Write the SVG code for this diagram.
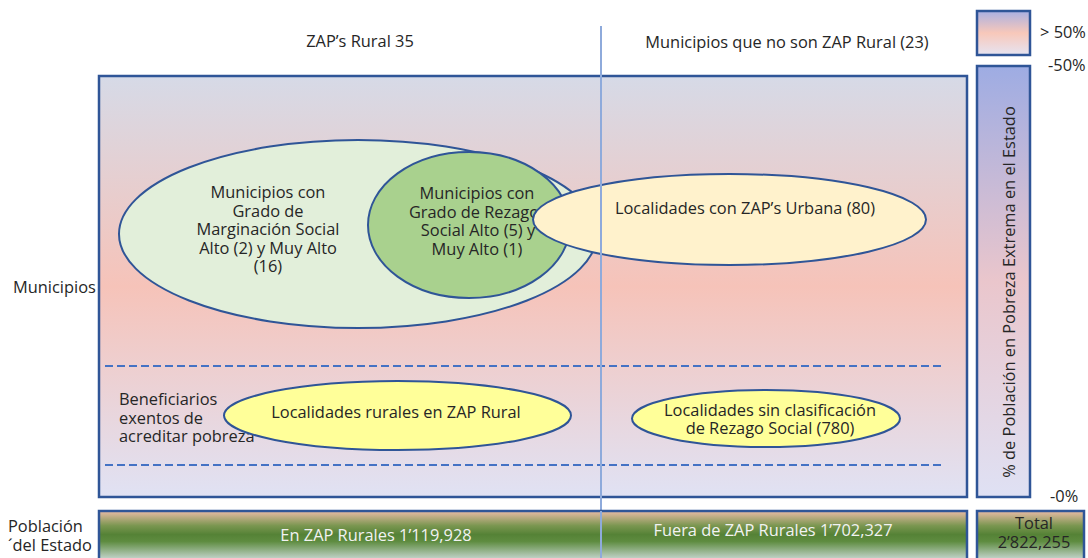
<svg xmlns="http://www.w3.org/2000/svg" width="1088" height="558" viewBox="0 0 1088 558">
<defs>
<linearGradient id="gMain" x1="0" y1="0" x2="0" y2="1">
<stop offset="0" stop-color="#d6dae7"/>
<stop offset="0.5" stop-color="#f6c3b9"/>
<stop offset="1" stop-color="#e0e2f4"/>
</linearGradient>
<linearGradient id="gLegend" x1="0" y1="0" x2="0" y2="1">
<stop offset="0" stop-color="#a9b0e2"/>
<stop offset="0.5" stop-color="#f8c8ba"/>
<stop offset="1" stop-color="#e6e4f2"/>
</linearGradient>
<linearGradient id="gBar" x1="0" y1="0" x2="0" y2="1">
<stop offset="0" stop-color="#9eace3"/>
<stop offset="0.5" stop-color="#eac6cc"/>
<stop offset="1" stop-color="#dfe1f4"/>
</linearGradient>
<linearGradient id="gPop" x1="0" y1="511" x2="0" y2="560" gradientUnits="userSpaceOnUse">
<stop offset="0" stop-color="#e9bba6"/>
<stop offset="0.3" stop-color="#7a9650"/>
<stop offset="0.48" stop-color="#558236"/>
<stop offset="0.62" stop-color="#5e8c40"/>
<stop offset="1" stop-color="#c9d8d4"/>
</linearGradient>
</defs>
<style>
text{font-family:"Open Sans","Liberation Sans",sans-serif;font-size:16.4px;fill:#262626}
.c{text-anchor:middle}
.box{stroke:#2f5597;stroke-width:2.5}
.ell{stroke:#2f5597;stroke-width:2}
.dash{stroke:#4472c4;stroke-width:2;stroke-dasharray:8 4;fill:none}
.w{fill:#f2f2f2}
</style>
<rect width="1088" height="558" fill="#ffffff"/>

<g id="panel">
<rect x="99" y="76" width="868" height="421" fill="url(#gMain)" class="box"/>
</g>

<g id="legend">
<rect x="977" y="11" width="53" height="44" fill="url(#gLegend)" class="box"/>
<text x="1040" y="38">&gt; 50%</text>
<text x="1048" y="71">-50%</text>
<rect x="977" y="66" width="53" height="431" fill="url(#gBar)" class="box"/>
<text class="c" transform="translate(1015 292) rotate(-90)">% de Población en Pobreza Extrema en el Estado</text>
<text x="1050" y="502">-0%</text>
</g>

<g id="headers">
<text class="c" x="360" y="47">ZAP’s Rural 35</text>
<text class="c" x="787" y="48">Municipios que no son ZAP Rural (23)</text>
<text x="13" y="293">Municipios</text>
</g>

<g id="marginacion">
<ellipse cx="358" cy="234" rx="239" ry="94" fill="#e2efda" class="ell"/>
<text class="c" x="268" y="198">Municipios con</text>
<text class="c" x="268" y="217">Grado de</text>
<text class="c" x="268" y="235">Marginación Social</text>
<text class="c" x="268" y="254">Alto (2) y Muy Alto</text>
<text class="c" x="268" y="272">(16)</text>
</g>

<g id="rezago">
<ellipse cx="469" cy="225" rx="101" ry="73" fill="#a9d18e" class="ell"/>
<text class="c" x="477" y="199">Municipios con</text>
<text class="c" x="474" y="218">Grado de Rezago</text>
<text class="c" x="478" y="236">Social Alto (5) y</text>
<text class="c" x="477" y="255">Muy Alto (1)</text>
</g>

<g id="urbana">
<ellipse cx="729.5" cy="219.5" rx="196.5" ry="45.5" fill="#fff2cc" class="ell"/>
<text class="c" x="745" y="214">Localidades con ZAP’s Urbana (80)</text>
</g>

<g id="connectors">
<line x1="105" y1="366" x2="945" y2="366" class="dash"/>
<line x1="105" y1="465" x2="945" y2="465" class="dash"/>
<line x1="601" y1="26" x2="601" y2="558" stroke="#8eaadb" stroke-width="2"/>
</g>

<g id="beneficiarios">
<text x="119" y="405">Beneficiarios</text>
<text x="119" y="424">exentos de</text>
<text x="119" y="442">acreditar pobreza</text>
</g>

<g id="rurales">
<ellipse cx="397.5" cy="415.5" rx="173.5" ry="34.5" fill="#ffff99" class="ell"/>
<text class="c" x="396" y="418">Localidades rurales en ZAP Rural</text>
</g>

<g id="sinclasif">
<ellipse cx="766" cy="418.5" rx="134" ry="28.5" fill="#ffff99" class="ell"/>
<text class="c" x="770" y="416">Localidades sin clasificación</text>
<text class="c" x="770" y="434">de Rezago Social (780)</text>
</g>

<g id="poblacion">
<text x="8" y="532">Población</text>
<text x="8" y="551">´del Estado</text>
<rect x="99" y="511" width="868" height="52" fill="url(#gPop)" class="box"/>
<line x1="601" y1="511" x2="601" y2="558" stroke="#8eaadb" stroke-width="2"/>
<text class="c w" x="376" y="541">En ZAP Rurales 1’119,928</text>
<text class="c w" x="773" y="536">Fuera de ZAP Rurales 1’702,327</text>
<rect x="977" y="511" width="107" height="52" fill="url(#gPop)" class="box"/>
<text class="c" x="1034" y="529">Total</text>
<text class="c" x="1034" y="548">2’822,255</text>
</g>
</svg>
